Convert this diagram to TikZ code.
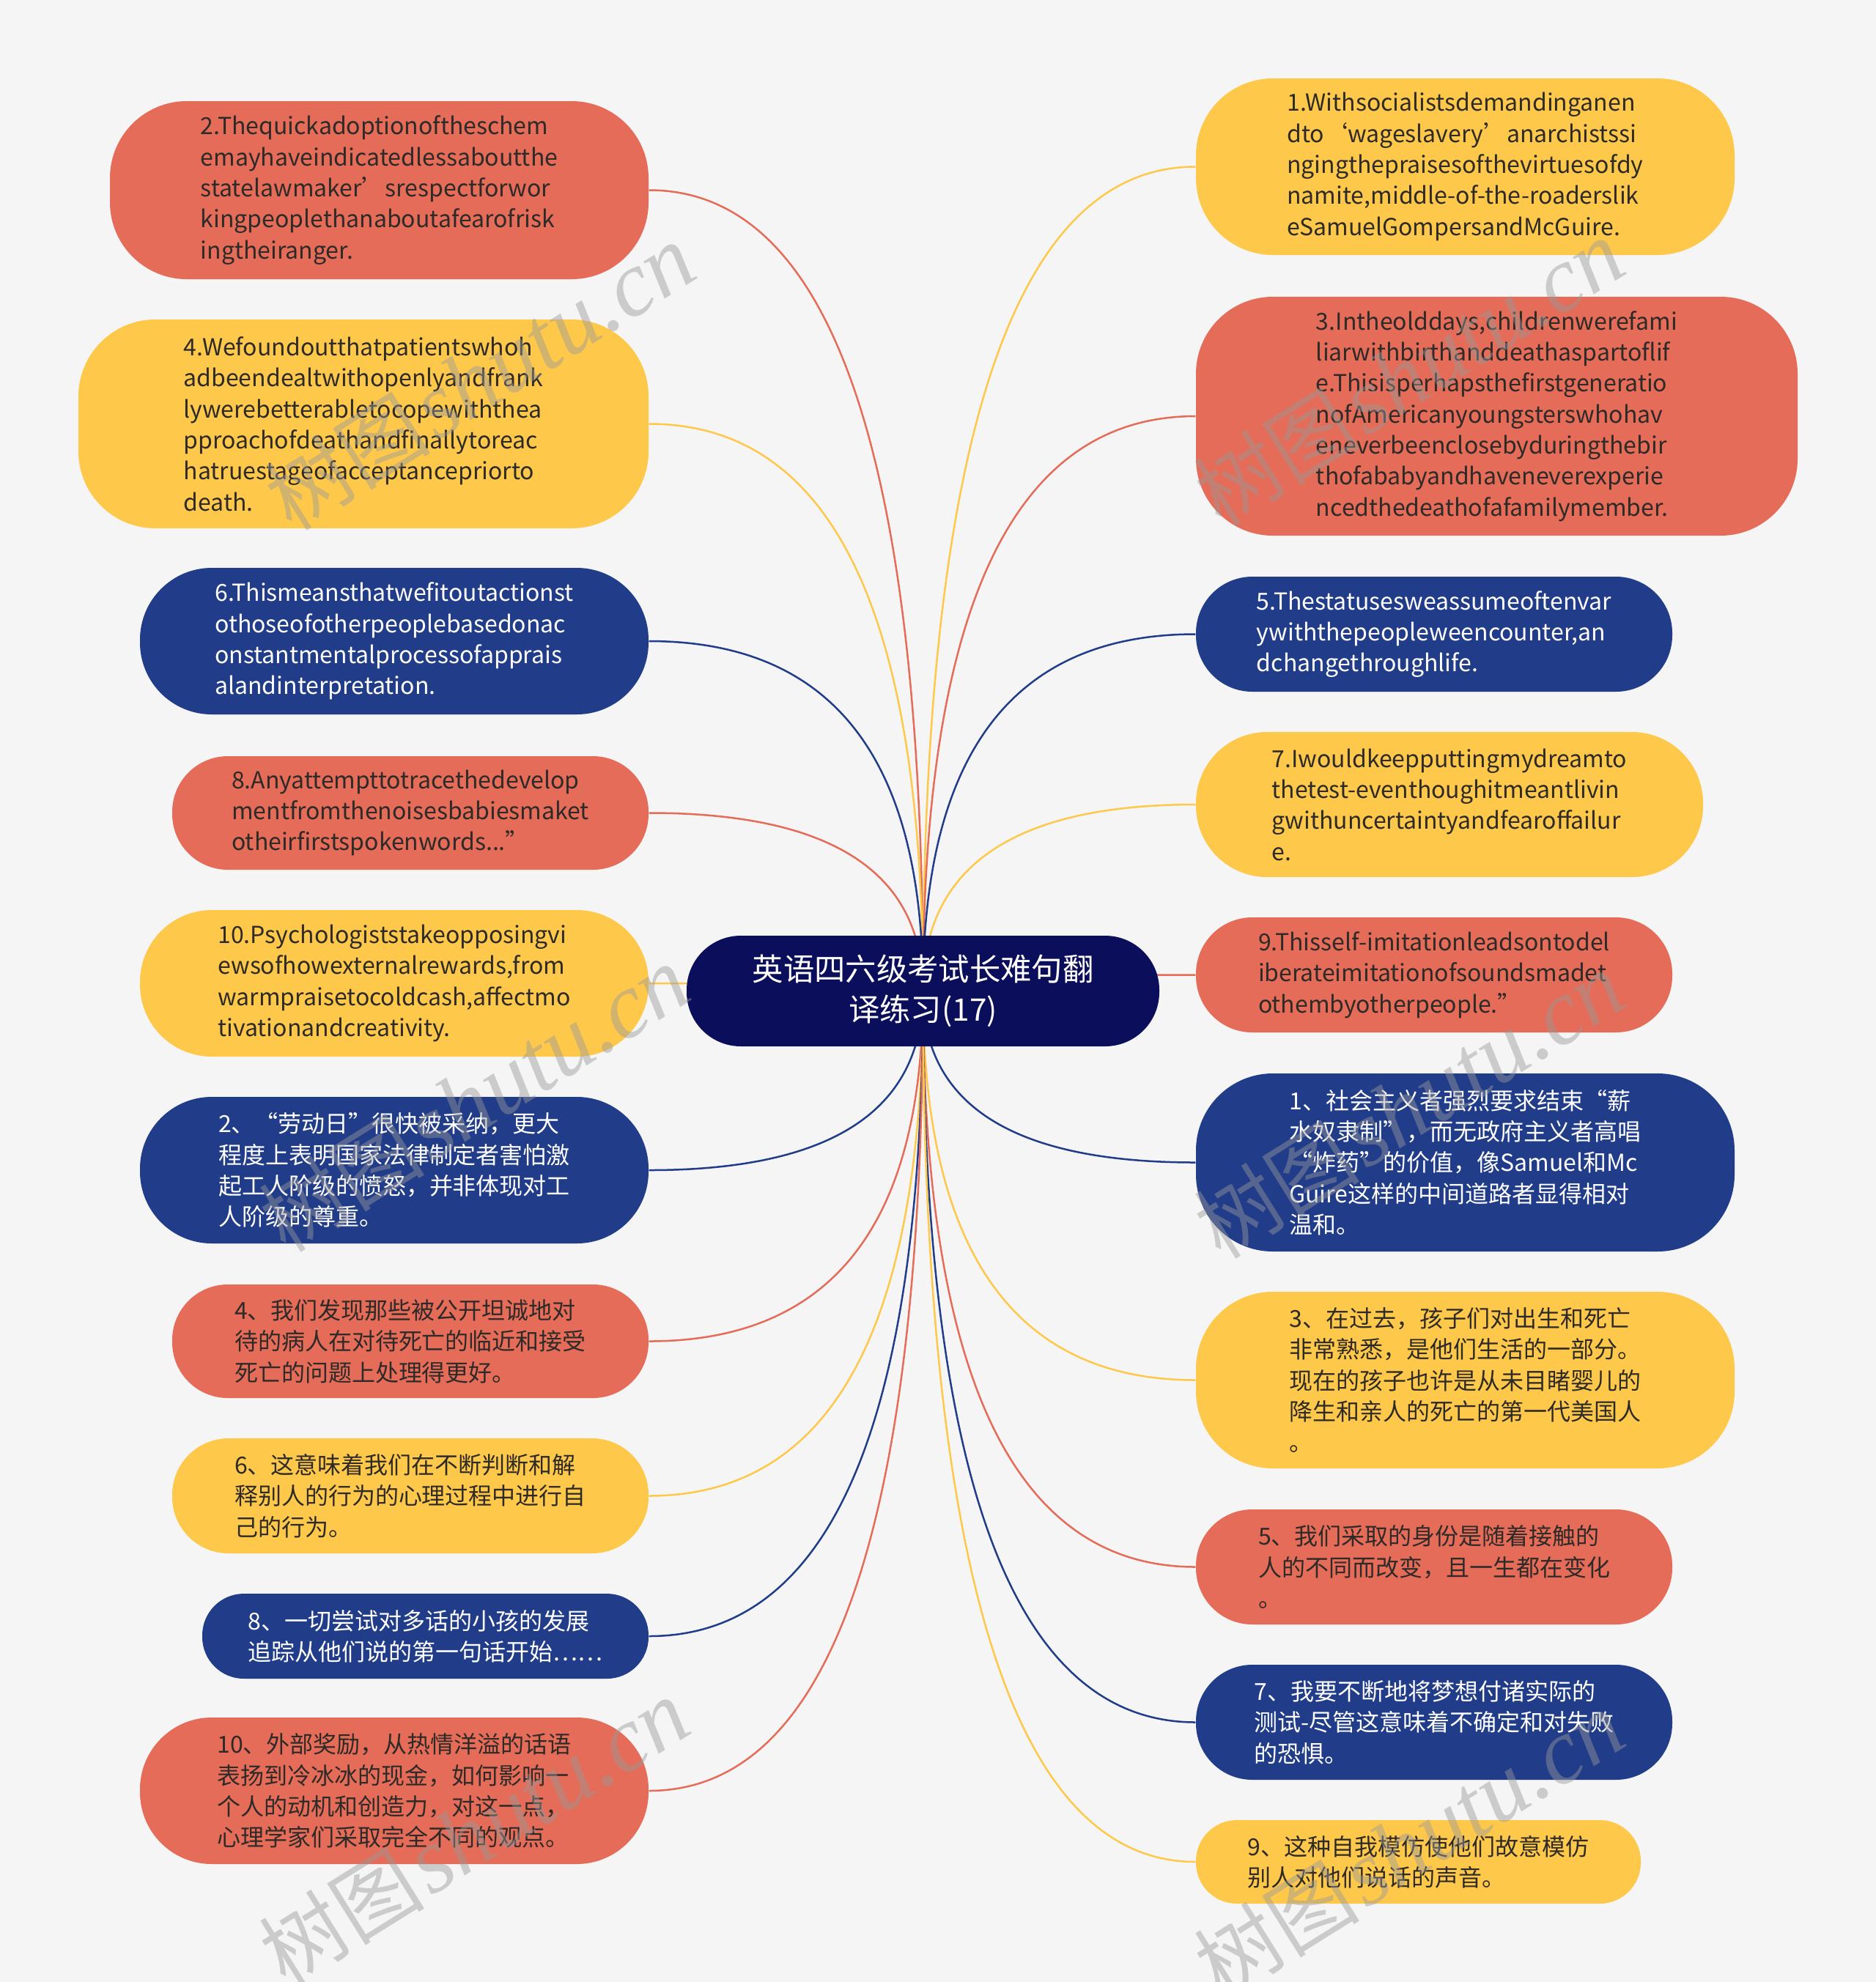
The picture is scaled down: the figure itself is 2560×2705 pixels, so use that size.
\documentclass[tikz,border=0pt]{standalone}
\usepackage{fontspec}
\setmainfont{Noto Sans CJK SC}
\newfontfamily\cjkwm{Noto Sans CJK SC}
\newfontfamily\wmserif{Liberation Serif}
\usetikzlibrary{calc}
\pgfdeclarelayer{edgelayer}
\pgfsetlayers{edgelayer,main}
\definecolor{bgc}{HTML}{F5F5F5}
\definecolor{cred}{HTML}{E46C58}
\definecolor{cyel}{HTML}{FEC84A}
\definecolor{cblu}{HTML}{213C88}
\definecolor{croot}{HTML}{0B0E5A}
\definecolor{tdark}{HTML}{2E2A28}
\definecolor{wmgray}{HTML}{9A9A9A}
\tikzset{
  wh/.style 2 args={minimum width=#1*0.3pt, minimum height=#2*0.3pt, rounded corners={min(#2*0.147,31.5)*1pt}},
  mmbox/.style={inner sep=0pt, align=left, font=\fontsize{9.6}{12.7}\selectfont},
  redbox/.style={mmbox, fill=cred, text=tdark},
  yelbox/.style={mmbox, fill=cyel, text=tdark},
  blubox/.style={mmbox, fill=cblu, text=white},
  rootbox/.style={inner sep=0pt, align=center, fill=croot, text=white, font=\fontsize{12.7}{16.5}\selectfont},
  conn/.style={line width=0.75pt},
  wmark/.style={rotate=32, text=wmgray, opacity=0.45, inner sep=0pt}
}
\newcommand\mmlink[3]{\draw[conn,#1] (root.center) .. controls ($(root.center)!0.667!(root.center|-#2.#3)$) and ($(#2.#3)!0.667!(root.center|-#2.#3)$) .. (#2.#3);}
\begin{document}
\begin{tikzpicture}[x=0.3pt,y=-0.3pt]
\useasboundingbox (0,0) rectangle (2560,2705);
% root
\node[rootbox, wh={645}{151}] (root) at (1259.5,1352.5) {英语四六级考试长难句翻\\译练习(17)};
% left nodes
\node[redbox, wh={735}{243}] (L1) at (517.5,259.5) {2.Thequickadoptionoftheschem\\emayhaveindicatedlessaboutthe\\statelawmaker’srespectforwor\\kingpeoplethanaboutafearofrisk\\ingtheiranger.};
\node[yelbox, wh={778}{285}] (L2) at (496,578.5) {4.Wefoundoutthatpatientswhoh\\adbeendealtwithopenlyandfrank\\lywerebetterabletocopewiththea\\pproachofdeathandfinallytoreac\\hatruestageofacceptancepriorto\\death.};
\node[blubox, wh={694}{200}] (L3) at (538,875) {6.Thismeansthatwefitoutactionst\\othoseofotherpeoplebasedonac\\onstantmentalprocessofapprais\\alandinterpretation.};
\node[redbox, wh={650}{155}] (L4) at (560,1109.5) {8.Anyattempttotracethedevelop\\mentfromthenoisesbabiesmaket\\otheirfirstspokenwords...”};
\node[yelbox, wh={694}{200}] (L5) at (538,1342) {10.Psychologiststakeopposingvi\\ewsofhowexternalrewards,from\\warmpraisetocoldcash,affectmo\\tivationandcreativity.};
\node[blubox, wh={694}{200}] (L6) at (538,1597) {2、“劳动日”很快被采纳，更大\\程度上表明国家法律制定者害怕激\\起工人阶级的愤怒，并非体现对工\\人阶级的尊重。};
\node[redbox, wh={650}{155}] (L7) at (560,1830.5) {4、我们发现那些被公开坦诚地对\\待的病人在对待死亡的临近和接受\\死亡的问题上处理得更好。};
\node[yelbox, wh={650}{157}] (L8) at (560,2041.5) {6、这意味着我们在不断判断和解\\释别人的行为的心理过程中进行自\\己的行为。};
\node[blubox, wh={609}{116}] (L9) at (580.5,2233) {8、一切尝试对多话的小孩的发展\\追踪从他们说的第一句话开始……};
\node[redbox, wh={694}{200}] (L10) at (538,2444) {10、外部奖励，从热情洋溢的话语\\表扬到冷冰冰的现金，如何影响一\\个人的动机和创造力，对这一点，\\心理学家们采取完全不同的观点。};
% right nodes
\node[yelbox, wh={735}{241}] (R1) at (1999.5,227.5) {1.Withsocialistsdemandinganen\\dto‘wageslavery’anarchistssi\\ngingthepraisesofthevirtuesofdy\\namite,middle-of-the-roaderslik\\eSamuelGompersandMcGuire.};
\node[redbox, wh={821}{326}] (R2) at (2042.5,568) {3.Intheolddays,childrenwerefami\\liarwithbirthanddeathaspartoflif\\e.Thisisperhapsthefirstgeneratio\\nofAmericanyoungsterswhohav\\eneverbeenclosebyduringthebir\\thofababyandhaveneverexperie\\ncedthedeathofafamilymember.};
\node[blubox, wh={650}{157}] (R3) at (1957,865.5) {5.Thestatusesweassumeoftenvar\\ywiththepeopleweencounter,an\\dchangethroughlife.};
\node[yelbox, wh={692}{198}] (R4) at (1978,1098) {7.Iwouldkeepputtingmydreamto\\thetest-eventhoughitmeantlivin\\gwithuncertaintyandfearoffailur\\e.};
\node[redbox, wh={650}{157}] (R5) at (1957,1330.5) {9.Thisself-imitationleadsontodel\\iberateimitationofsoundsmadet\\othembyotherpeople.”};
\node[blubox, wh={735}{243}] (R6) at (1999.5,1586.5) {1、社会主义者强烈要求结束“薪\\水奴隶制”，而无政府主义者高唱\\“炸药”的价值，像Samuel和Mc\\Guire这样的中间道路者显得相对\\温和。};
\node[yelbox, wh={735}{241}] (R7) at (1999.5,1883.5) {3、在过去，孩子们对出生和死亡\\非常熟悉，是他们生活的一部分。\\现在的孩子也许是从未目睹婴儿的\\降生和亲人的死亡的第一代美国人\\。};
\node[redbox, wh={650}{157}] (R8) at (1957,2138.5) {5、我们采取的身份是随着接触的\\人的不同而改变，且一生都在变化\\。};
\node[blubox, wh={650}{157}] (R9) at (1957,2350.5) {7、我要不断地将梦想付诸实际的\\测试-尽管这意味着不确定和对失败\\的恐惧。};
\node[yelbox, wh={607}{114}] (R10) at (1935.5,2541) {9、这种自我模仿使他们故意模仿\\别人对他们说话的声音。};
% connectors
\begin{pgfonlayer}{edgelayer}
\fill[bgc] (0,0) rectangle (2560,2705);
\mmlink{cred}{L1}{east}
\mmlink{cyel}{L2}{east}
\mmlink{cblu}{L3}{east}
\mmlink{cred}{L4}{east}
\mmlink{cyel}{L5}{east}
\mmlink{cblu}{L6}{east}
\mmlink{cred}{L7}{east}
\mmlink{cyel}{L8}{east}
\mmlink{cblu}{L9}{east}
\mmlink{cred}{L10}{east}
\mmlink{cyel}{R1}{west}
\mmlink{cred}{R2}{west}
\mmlink{cblu}{R3}{west}
\mmlink{cyel}{R4}{west}
\mmlink{cred}{R5}{west}
\mmlink{cblu}{R6}{west}
\mmlink{cyel}{R7}{west}
\mmlink{cred}{R8}{west}
\mmlink{cblu}{R9}{west}
\mmlink{cyel}{R10}{west}
\end{pgfonlayer}
% watermarks
\node[wmark] (wm1) at (655,515) {{\cjkwm\fontsize{34}{34}\selectfont 树图} {\wmserif\itshape\fontsize{38}{38}\selectfont shutu.cn}};
\node[wmark] (wm2) at (1923,509) {{\cjkwm\fontsize{34}{34}\selectfont 树图} {\wmserif\itshape\fontsize{38}{38}\selectfont shutu.cn}};
\node[wmark] (wm3) at (647,1500) {{\cjkwm\fontsize{34}{34}\selectfont 树图} {\wmserif\itshape\fontsize{38}{38}\selectfont shutu.cn}};
\node[wmark] (wm4) at (1923,1509) {{\cjkwm\fontsize{34}{34}\selectfont 树图} {\wmserif\itshape\fontsize{38}{38}\selectfont shutu.cn}};
\node[wmark] (wm5) at (647,2501) {{\cjkwm\fontsize{34}{34}\selectfont 树图} {\wmserif\itshape\fontsize{38}{38}\selectfont shutu.cn}};
\node[wmark] (wm6) at (1923,2518) {{\cjkwm\fontsize{34}{34}\selectfont 树图} {\wmserif\itshape\fontsize{38}{38}\selectfont shutu.cn}};
\end{tikzpicture}
\end{document}
